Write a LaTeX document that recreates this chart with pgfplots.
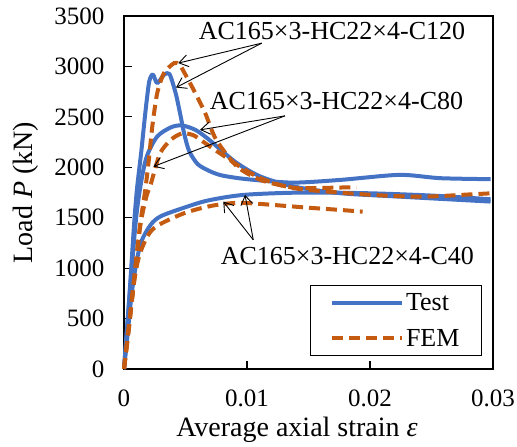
\documentclass[border=0pt]{standalone}
\usepackage{fontspec}
\setmainfont{Liberation Serif}
\usepackage{pgfplots}
\pgfplotsset{compat=1.18}
\usetikzlibrary{arrows.meta}
\definecolor{tblue}{RGB}{68,114,196}
\definecolor{forange}{RGB}{197,90,17}
\begin{document}
\begin{tikzpicture}
\path[use as bounding box] (-124bp,-78bp) rectangle (393bp,369bp);
\begin{axis}[
  scale only axis, width=369bp, height=353bp,
  xmin=0, xmax=0.03, ymin=0, ymax=3500,
  scaled x ticks=false, scaled y ticks=false,
  xtick={0,0.01,0.02,0.03}, xticklabels={0,0.01,0.02,0.03},
  ytick={0,500,1000,1500,2000,2500,3000,3500},
  yticklabels={0,500,1000,1500,2000,2500,3000,3500},
  tick align=inside, xtick pos=bottom, ytick pos=left,
  major tick length=8bp,
  axis line style={line width=1.1bp, black},
  every tick/.style={line width=1.1bp, black},
  /pgf/number format/assume math mode=true,
  ticklabel style={font=\fontsize{25bp}{30bp}\selectfont},
  yticklabel style={xshift=-16bp},
  xticklabel style={yshift=-17bp},
  legend style={at={(1,0)}, anchor=south east, xshift=-11bp, yshift=13bp,
    draw=black, line width=1bp, fill=white,
    font=\fontsize{26bp}{31bp}\selectfont,
    inner xsep=20bp, inner ysep=6bp, row sep=13bp,
    nodes={inner sep=2bp}},
  legend cell align=left,
  legend image code/.code={\draw[#1] (0bp,0bp) -- (70bp,0bp);},
  clip=false,
]
% Test curves
\addplot[tblue, line width=4bp, line join=round, smooth, tension=0.45] coordinates {
(0,0) (0.0004,650) (0.0008,1400) (0.00105,1780) (0.0014,2150) (0.00176,2569)
(0.00205,2850) (0.00235,2920) (0.0027,2834) (0.00325,2917) (0.0037,2925)
(0.0042,2735) (0.00455,2540) (0.0049,2330) (0.0053,2160) (0.0060,2030)
(0.0070,1960) (0.0080,1918) (0.0100,1882) (0.0137,1848) (0.0176,1875) (0.0224,1925)
(0.0257,1892) (0.0298,1882)};
\addlegendentry{Test}
\addplot[tblue, line width=4bp, line join=round, smooth, tension=0.5, forget plot] coordinates {
(0,0) (0.0004,650) (0.0008,1250) (0.00108,1600) (0.00149,1920) (0.00189,2120)
(0.0027,2305) (0.0038,2395) (0.0047,2415) (0.0058,2371) (0.0068,2285)
(0.0078,2180) (0.0092,2040) (0.0111,1908) (0.0138,1809) (0.0176,1743)
(0.0224,1709) (0.0298,1660)};
\addplot[tblue, line width=4bp, line join=round, smooth, tension=0.5, forget plot] coordinates {
(0,0) (0.0003,350) (0.0006,720) (0.00095,1015) (0.0014,1260) (0.00217,1430)
(0.0030,1515) (0.0049,1600) (0.0068,1670) (0.0097,1726) (0.0143,1749)
(0.0197,1743) (0.0251,1719) (0.0298,1683)};
% FEM curves
\addplot[forange, line width=4bp, dash pattern=on 11bp off 6bp, smooth, tension=0.45] coordinates {
(0,0) (0.0007,750) (0.0013,1420) (0.0017,1750) (0.0020,2050) (0.0023,2404)
(0.0027,2735) (0.00325,2933) (0.00407,3033) (0.0045,3020) (0.0049,2940)
(0.0058,2735) (0.0066,2537) (0.0075,2272) (0.0092,2007) (0.0111,1875)
(0.0132,1809) (0.0143,1793) (0.0160,1795) (0.0189,1803)};
\addlegendentry{FEM}
\addplot[forange, line width=4bp, dash pattern=on 11bp off 6bp, smooth, tension=0.5, forget plot] coordinates {
(0,0) (0.0007,750) (0.0013,1400) (0.0018,1700) (0.00217,1830) (0.00258,2007)
(0.00298,2150) (0.0038,2272) (0.0047,2335) (0.0056,2320) (0.0063,2265)
(0.0070,2205) (0.0084,2090) (0.0097,1985) (0.0111,1892) (0.0130,1815)
(0.0149,1776) (0.0202,1726) (0.0243,1709) (0.0284,1733) (0.0300,1743)};
\addplot[forange, line width=4bp, dash pattern=on 11bp off 6bp, smooth, tension=0.5, forget plot] coordinates {
(0,0) (0.0004,400) (0.00081,850) (0.00122,1114) (0.00189,1312) (0.0027,1420)
(0.0049,1545) (0.0070,1615) (0.0088,1645) (0.0102,1644) (0.0121,1627) (0.0149,1600)
(0.0176,1577) (0.0194,1560)};
% annotations
\begin{scope}[font=\fontsize{26bp}{31bp}\selectfont]
\node[anchor=base, inner sep=0pt] at (axis cs:0.01691,3264) {AC165×3-HC22×4-C120};
\node[anchor=base, inner sep=0pt] at (axis cs:0.01728,2569) {AC165×3-HC22×4-C80};
\node[anchor=base, inner sep=0pt] at (axis cs:0.01816,1032) {AC165×3-HC22×4-C40};
\end{scope}
\begin{scope}[line width=0.9bp, -{Straight Barb[length=9bp,width=12bp]}]
\draw (axis cs:0.0112,3231) -- (axis cs:0.00441,3033);
\draw (axis cs:0.0112,3231) -- (axis cs:0.00423,2791);
\draw (axis cs:0.01309,2510) -- (axis cs:0.00618,2371);
\draw (axis cs:0.01309,2510) -- (axis cs:0.00238,2007);
\draw (axis cs:0.01051,1280) -- (axis cs:0.00807,1660);
\draw (axis cs:0.01051,1280) -- (axis cs:0.00984,1726);
\end{scope}
\end{axis}
\node[rotate=90, font=\fontsize{28bp}{33bp}\selectfont] at (-98bp,176.5bp) {Load \textit{P} (kN)};
\node[anchor=base, font=\fontsize{28bp}{33bp}\selectfont] at (173bp,-67bp) {Average axial strain \textit{ε}};
\end{tikzpicture}
\end{document}
